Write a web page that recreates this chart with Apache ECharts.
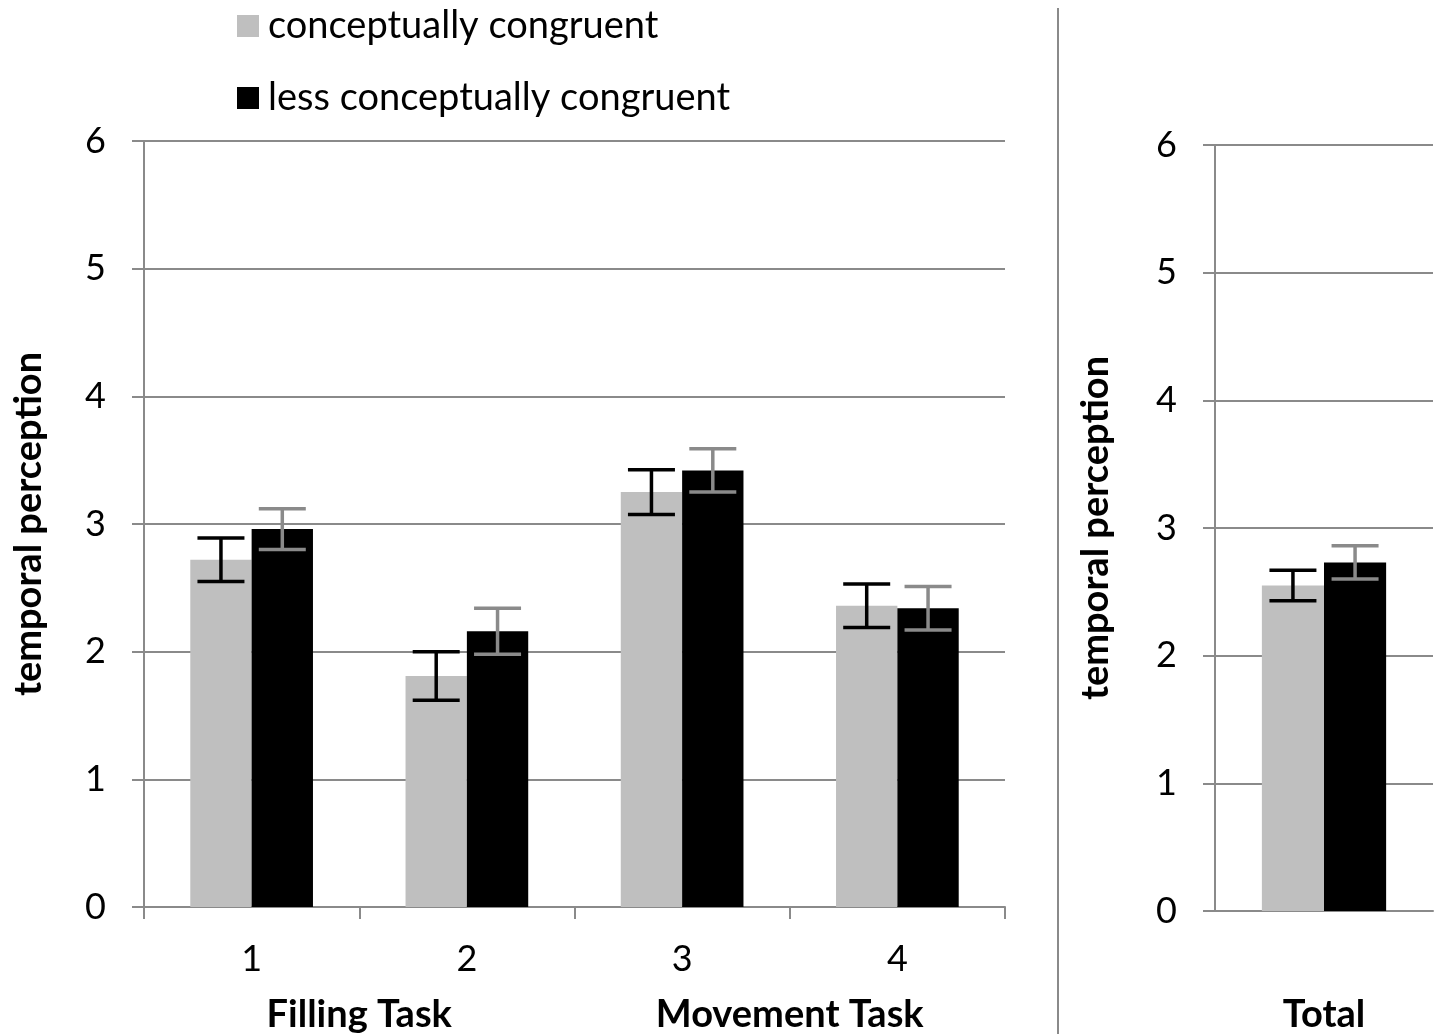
<!DOCTYPE html>
<html>
<head>
<meta charset="utf-8">
<script src="https://cdn.jsdelivr.net/npm/echarts@6/dist/echarts.min.js"></script>
<style>
html,body{margin:0;padding:0;background:#fff;}
#chart{width:1438px;height:1034px;}
</style>
</head>
<body>
<div id="chart"></div>
<script>
// ---- data ----
const categories = ['1', '2', '3', '4'];
const groupLabels = ['Filling Task', 'Movement Task'];
const totalCategory = ['Total'];
const seriesNames = ['conceptually congruent', 'less conceptually congruent'];
const congruent = [2.72, 1.81, 3.25, 2.36];
const congruentErr = [0.17, 0.19, 0.175, 0.17];
const lessCongruent = [2.96, 2.16, 3.42, 2.34];
const lessCongruentErr = [0.16, 0.18, 0.17, 0.17];
const totalCongruent = [2.55];
const totalCongruentErr = [0.12];
const totalLess = [2.73];
const totalLessErr = [0.13];
const yTicks = [0, 1, 2, 3, 4, 5, 6];

const FONT = 'Lato';
const GRID_COLOR = '#8a8a8a';
const GRAY = '#bfbfbf';
const BLACK = '#000000';
const CAT_GAP = 0.43;

function errData(vals, errs) {
  return vals.map((v, i) => [i, v, errs[i]]);
}
function errSeries(name, xi, yi, data, side, color) {
  return {
    type: 'custom', name: name + ' err', xAxisIndex: xi, yAxisIndex: yi, z: 5,
    silent: true,
    data: data,
    renderItem: function (params, api) {
      const cw = api.size([1, 0])[0];
      const bw = cw * (1 - CAT_GAP) / 2;
      const c = api.coord([api.value(0), api.value(1)]);
      const x = c[0] + side * bw / 2;
      const hi = api.coord([api.value(0), api.value(1) + api.value(2)])[1];
      const lo = api.coord([api.value(0), api.value(1) - api.value(2)])[1];
      const half = 23.5;
      const st = { stroke: color, lineWidth: 3.5 };
      return {
        type: 'group',
        children: [
          { type: 'line', shape: { x1: x, y1: hi, x2: x, y2: lo }, style: st },
          { type: 'line', shape: { x1: x - half, y1: hi, x2: x + half, y2: hi }, style: st },
          { type: 'line', shape: { x1: x - half, y1: lo, x2: x + half, y2: lo }, style: st }
        ]
      };
    }
  };
}

const yAxisCommon = {
  type: 'value', min: 0, max: 6, interval: 1,
  name: 'temporal perception', nameLocation: 'middle',
  nameTextStyle: { fontFamily: FONT, fontWeight: 'bold', fontSize: 38, color: '#000' },
  axisLine: { show: true, lineStyle: { color: GRID_COLOR, width: 2 } },
  axisTick: { show: true, length: 12, lineStyle: { color: GRID_COLOR, width: 2 } },
  axisLabel: { fontFamily: FONT, fontSize: 36, color: '#000', margin: 38,
    formatter: function (v) { return yTicks.indexOf(v) >= 0 ? String(v) : ''; } },
  splitLine: { show: true, lineStyle: { color: GRID_COLOR, width: 2 } }
};

const option = {
  backgroundColor: '#fff',
  animation: false,
  legend: {
    orient: 'vertical', left: 232, top: 2, itemGap: 34,
    itemWidth: 22, itemHeight: 22, icon: 'rect',
    data: seriesNames,
    textStyle: { fontFamily: FONT, fontSize: 38, color: '#000', padding: [0, 0, 0, 4] }
  },
  grid: [
    { left: 144, top: 141, width: 861, height: 767 },
    { left: 1215, top: 145, width: 218, height: 767 }
  ],
  xAxis: [
    { type: 'category', gridIndex: 0, data: categories,
      axisLine: { lineStyle: { color: GRID_COLOR, width: 2 } },
      axisTick: { show: true, length: 12, alignWithLabel: false, lineStyle: { color: GRID_COLOR, width: 2 } },
      axisLabel: { fontFamily: FONT, fontSize: 36, color: '#000', margin: 34 } },
    { type: 'category', gridIndex: 0, data: groupLabels, position: 'bottom', offset: 89,
      axisLine: { show: false }, axisTick: { show: false },
      axisLabel: { fontFamily: FONT, fontSize: 38, fontWeight: 'bold', color: '#000', margin: 0 } },
    { type: 'category', gridIndex: 1, data: totalCategory,
      axisLine: { lineStyle: { color: GRID_COLOR, width: 2 } },
      axisTick: { show: false },
      axisLabel: { fontFamily: FONT, fontSize: 38, fontWeight: 'bold', color: '#000', margin: 85 } }
  ],
  yAxis: [
    Object.assign({}, yAxisCommon, { gridIndex: 0, nameGap: 96 }),
    Object.assign({}, yAxisCommon, { gridIndex: 1, nameGap: 100 })
  ],
  series: [
    { type: 'bar', name: seriesNames[0], xAxisIndex: 0, yAxisIndex: 0, data: congruent,
      itemStyle: { color: GRAY }, barGap: '0%', barCategoryGap: (CAT_GAP * 100) + '%' },
    { type: 'bar', name: seriesNames[1], xAxisIndex: 0, yAxisIndex: 0, data: lessCongruent,
      itemStyle: { color: BLACK }, barGap: '0%', barCategoryGap: (CAT_GAP * 100) + '%' },
    { type: 'bar', name: seriesNames[0], xAxisIndex: 2, yAxisIndex: 1, data: totalCongruent,
      itemStyle: { color: GRAY }, barGap: '0%', barCategoryGap: (CAT_GAP * 100) + '%' },
    { type: 'bar', name: seriesNames[1], xAxisIndex: 2, yAxisIndex: 1, data: totalLess,
      itemStyle: { color: BLACK }, barGap: '0%', barCategoryGap: (CAT_GAP * 100) + '%' },
    errSeries('c', 0, 0, errData(congruent, congruentErr), -1, BLACK),
    errSeries('l', 0, 0, errData(lessCongruent, lessCongruentErr), 1, GRID_COLOR),
    errSeries('tc', 2, 1, errData(totalCongruent, totalCongruentErr), -1, BLACK),
    errSeries('tl', 2, 1, errData(totalLess, totalLessErr), 1, GRID_COLOR)
  ],
  graphic: [
    { type: 'line', shape: { x1: 1058, y1: 8, x2: 1058, y2: 1034 },
      style: { stroke: GRID_COLOR, lineWidth: 2 } }
  ]
};

const chart = echarts.init(document.getElementById('chart'), null, { renderer: 'canvas' });
chart.setOption(option);
</script>
</body>
</html>
